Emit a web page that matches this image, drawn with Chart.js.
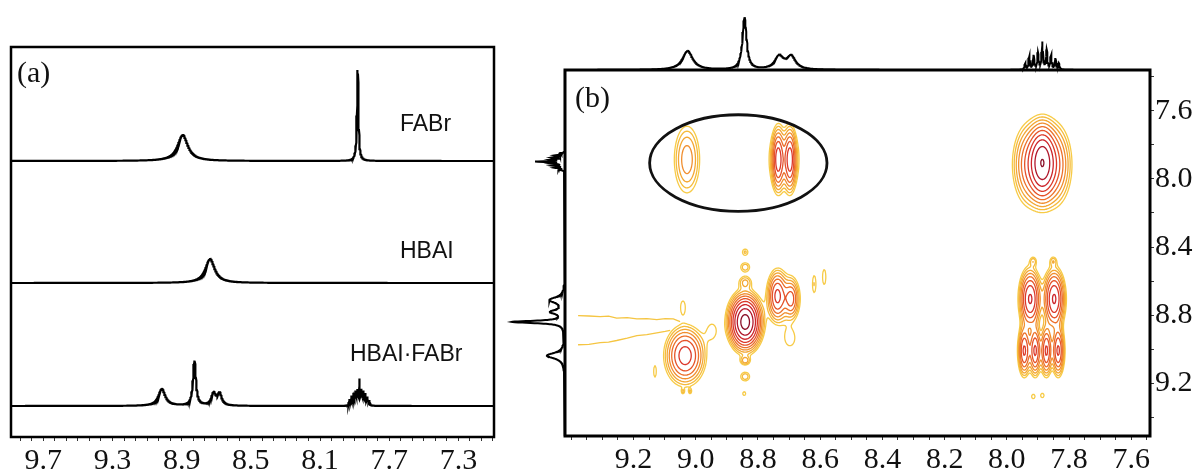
<!DOCTYPE html>
<html>
<head>
<meta charset="utf-8">
<title>1H NMR and NOESY</title>
<script src="https://cdn.jsdelivr.net/npm/chart.js@4.4.1/dist/chart.umd.min.js"></script>
<style>
  html, body { margin: 0; padding: 0; background: #fff; }
  body { width: 1197px; height: 474px; position: relative; overflow: hidden; }
  canvas { position: absolute; top: 0; }
  #chartA { left: 0; }
  #chartB { left: 500px; }
</style>
</head>
<body>
<canvas id="chartA" width="520" height="474"></canvas>
<canvas id="chartB" width="697" height="474"></canvas>
<script>
// ---------- panel (a): 1H spectra, peak lists ----------
const aTickLabels = ['9.7', '9.3', '8.9', '8.5', '8.1', '7.7', '7.3'];
const aNames = ['FABr', 'HBAI', 'HBAI·FABr'];

const fabrPpm = [8.894, 7.882];
const fabrHeight = [26, 91];
const fabrHwhm = [0.036, 0.005];

const hbaiPpm = [8.736];
const hbaiHeight = [24];
const hbaiHwhm = [0.033];

const mixPpm = [9.015, 8.826, 8.716, 8.681, 7.930, 7.918, 7.906, 7.895, 7.884, 7.872, 7.861, 7.850, 7.838, 7.826, 7.815];
const mixHeight = [17, 45, 12, 12, 6, 9, 11, 13, 14, 25, 14, 13, 11, 8, 5];
const mixHwhm = [0.024, 0.010, 0.015, 0.015, 0.003, 0.003, 0.003, 0.003, 0.003, 0.003, 0.003, 0.003, 0.003, 0.003, 0.003];

// ---------- panel (b): NOESY of HBAI·FABr ----------
const bF2TickLabels = ['9.2', '9.0', '8.8', '8.6', '8.4', '8.2', '8.0', '7.8', '7.6'];
const bF1TickLabels = ['7.6', '8.0', '8.4', '8.8', '9.2'];

// projection on top (F2)
const topPpm = [9.026, 8.843, 8.732, 8.693, 7.941, 7.928, 7.914, 7.900, 7.886, 7.872, 7.858, 7.844, 7.833];
const topHeight = [19, 52, 13, 13, 6, 13, 14, 16, 27, 19, 14, 11, 6];
const topHwhm = [0.020, 0.008, 0.017, 0.017, 0.0025, 0.0025, 0.0025, 0.0025, 0.0025, 0.0025, 0.0025, 0.0025, 0.0025];

// projection on the left (F1)
const sidePpm = [7.850, 7.862, 7.874, 7.886, 7.898, 7.910, 7.922, 7.934, 7.946, 8.711, 8.781, 8.840, 9.038];
const sideHeight = [5, 9, 11, 12, 28, 12, 11, 9, 6, 15, 13, 52, 18];
const sideHwhm = [0.003, 0.003, 0.003, 0.003, 0.003, 0.003, 0.003, 0.003, 0.003, 0.020, 0.015, 0.008, 0.020];

// cross / diagonal peaks: centre (F2, F1), amplitude, spread (ppm)
const crossF2 = [8.841, 8.841, 8.841, 8.841, 8.841, 8.841, 8.844,
                 9.034, 9.041, 9.131, 9.041, 9.018,
                 8.738, 8.693, 8.716, 8.619, 8.587, 8.697, 8.947,
                 9.028, 8.735, 8.697, 8.716,
                 7.886, 7.925, 7.848,
                 7.925, 7.848, 7.944, 7.909, 7.873, 7.835, 7.915, 7.851, 7.915, 7.886];
const crossF1 = [8.840, 8.430, 8.518, 8.606, 9.068, 9.161, 9.261,
                 9.038, 8.752, 9.132, 9.249, 9.249,
                 8.687, 8.705, 8.700, 8.617, 8.576, 8.939, 8.892,
                 7.886, 7.886, 7.886, 7.886,
                 7.904, 7.916, 7.916,
                 8.705, 8.705, 9.009, 9.009, 9.009, 9.009, 8.483, 8.483, 9.278, 9.272];
const crossAmp = [24, 1.5, 1.8, 2.0, 2.2, 1.8, 1.3,
                  9, 1.3, 1.3, 1.2, 1.2,
                  7, 5, 1.8, 1.4, 1.4, 1.3, 1.2,
                  3.4, 8, 8, 1.9,
                  16, 5.5, 5.5,
                  11, 11, 8, 8, 8, 8, 1.5, 1.5, 1.4, 1.4];
const crossSdF2 = [0.0257, 0.0096, 0.013, 0.0145, 0.011, 0.013, 0.0064,
                   0.033, 0.0096, 0.005, 0.004, 0.004,
                   0.016, 0.013, 0.035, 0.0064, 0.0064, 0.019, 0.019,
                   0.026, 0.0106, 0.0106, 0.037,
                   0.0225, 0.031, 0.031,
                   0.018, 0.018, 0.0108, 0.0103, 0.0103, 0.0108, 0.008, 0.008, 0.0064, 0.0064];
const crossSdF1 = [0.079, 0.020, 0.023, 0.026, 0.018, 0.023, 0.015,
                   0.088, 0.047, 0.041, 0.012, 0.012,
                   0.076, 0.060, 0.100, 0.058, 0.053, 0.053, 0.058,
                   0.125, 0.094, 0.094, 0.122,
                   0.111, 0.132, 0.132,
                   0.090, 0.090, 0.078, 0.078, 0.078, 0.078, 0.020, 0.020, 0.015, 0.015];

const contourLevels = [1, 1.4, 1.96, 2.74, 3.84, 5.38, 7.53, 10.5, 14.8, 20.7];
const contourColors = ['#f7cb47', '#f5bb3c', '#f3a734', '#f08e2f', '#ec702b', '#e5532a', '#db382a', '#cc252b', '#b0182c', '#8a1028'];

// t1-noise streaks at the left edge
const ridgeUpperF2 = [9.378, 9.343, 9.307, 9.280, 9.254, 9.220, 9.189, 9.157, 9.125, 9.098, 9.072, 9.050];
const ridgeUpperF1 = [8.803, 8.805, 8.809, 8.806, 8.818, 8.815, 8.822, 8.820, 8.826, 8.821, 8.822, 8.838];
const ridgeLowerF2 = [9.378, 9.343, 9.307, 9.280, 9.254, 9.220, 9.189, 9.157, 9.125, 9.098, 9.082];
const ridgeLowerF1 = [8.974, 8.972, 8.962, 8.958, 8.949, 8.935, 8.920, 8.915, 8.904, 8.896, 8.890];

// the ring drawn round the FABr cross peaks
const circleF2 = [9.148, 8.578];
const circleF1 = [7.623, 8.190];

// ---------- helpers ----------
const serif = "'Liberation Serif', 'Times New Roman', serif";
const sans = "'Liberation Sans', Arial, sans-serif";
Chart.defaults.font.family = serif;
Chart.defaults.color = '#111';

function lineshape(ppm, height, hwhm, lo, hi, step) {
  const pts = [];
  const n = Math.round((hi - lo) / step);
  for (let k = 0; k <= n; k++) {
    const v = lo + k * step;
    let s = 0;
    for (let i = 0; i < ppm.length; i++) {
      const d = (v - ppm[i]) / hwhm[i];
      s += height[i] / (1 + d * d);
    }
    pts.push([v, s]);
  }
  return pts;
}

function buildTicks(anchor, step, lo, hi) {
  const out = [];
  const k0 = Math.ceil((lo - anchor) / step - 1e-6);
  const k1 = Math.floor((hi - anchor) / step + 1e-6);
  for (let k = k0; k <= k1; k++) out.push({ value: anchor + k * step });
  return out;
}

function labelFor(labels) {
  return (v) => labels.find(l => Math.abs(parseFloat(l) - v) < 1e-6) || '';
}

function axisTicks(labels, size) {
  return {
    autoSkip: false, maxRotation: 0, minRotation: 0, padding: 2,
    color: '#111', font: { family: serif, size: size, lineHeight: 1.2 },
    callback: labelFor(labels)
  };
}
const tickGrid = { drawOnChartArea: false, tickLength: 4, tickColor: '#333', tickWidth: 1 };

// ---------- chart (a) ----------
const A_MIN = 7.094, A_MAX = 9.887;
const aOffsets = [276, 154, 31];
const aSpectra = [
  [fabrPpm, fabrHeight, fabrHwhm],
  [hbaiPpm, hbaiHeight, hbaiHwhm],
  [mixPpm, mixHeight, mixHwhm]
];

const panelA = {
  id: 'panelA',
  afterDatasetsDraw(chart) {
    const { ctx, chartArea: ca } = chart;
    ctx.save();
    ctx.strokeStyle = '#000';
    ctx.lineWidth = 2.5;
    ctx.strokeRect(ca.left, ca.top, ca.right - ca.left, ca.bottom - ca.top);
    ctx.fillStyle = '#111';
    ctx.textBaseline = 'middle';
    ctx.font = '30px ' + serif;
    ctx.fillText('(a)', 17, 74);
    ctx.font = '23px ' + sans;
    ctx.fillText(aNames[0], 400, 125);
    ctx.fillText(aNames[1], 400, 252);
    ctx.fillText(aNames[2], 350, 355);
    ctx.restore();
  }
};

new Chart(document.getElementById('chartA'), {
  type: 'scatter',
  data: {
    datasets: aSpectra.map((s, i) => ({
      label: aNames[i],
      data: lineshape(s[0], s[1], s[2], A_MIN, A_MAX, 0.001).map(p => ({ x: p[0], y: p[1] + aOffsets[i] })),
      showLine: true, pointRadius: 0, borderColor: '#000', borderWidth: 2.2
    }))
  },
  options: {
    responsive: false, animation: false, events: [],
    layout: { padding: { left: 11, right: 26, top: 47, bottom: 0 } },
    plugins: { legend: { display: false }, tooltip: { enabled: false } },
    scales: {
      x: {
        type: 'linear', reverse: true, min: A_MIN, max: A_MAX,
        afterBuildTicks: s => { s.ticks = buildTicks(7.3, 0.4 / 6, A_MIN, A_MAX); },
        afterFit: s => { s.height = 37; s.paddingLeft = 0; s.paddingRight = 0; },
        ticks: axisTicks(aTickLabels, 30),
        grid: tickGrid,
        border: { display: false }
      },
      y: { display: false, min: 0, max: 390 }
    }
  },
  plugins: [panelA]
});

// ---------- chart (b) ----------
const B_F2 = [7.54, 9.42];
const B_F1 = [7.36, 9.51];

function computeField(chart) {
  const { chartArea: ca, scales: { x, y } } = chart;
  const nx = Math.floor(ca.right - ca.left) + 1;
  const ny = Math.floor(ca.bottom - ca.top) + 1;
  const f2 = new Float64Array(nx), f1 = new Float64Array(ny);
  for (let i = 0; i < nx; i++) f2[i] = x.getValueForPixel(ca.left + i);
  for (let j = 0; j < ny; j++) f1[j] = y.getValueForPixel(ca.top + j);
  const field = new Float32Array(nx * ny);
  const gx = new Float64Array(nx), gy = new Float64Array(ny);
  for (let p = 0; p < crossAmp.length; p++) {
    let i0 = nx, i1 = -1, j0 = ny, j1 = -1;
    for (let i = 0; i < nx; i++) {
      const d = (f2[i] - crossF2[p]) / crossSdF2[p];
      gx[i] = Math.exp(-0.5 * d * d);
      if (gx[i] > 1e-4) { i0 = Math.min(i0, i); i1 = i; }
    }
    for (let j = 0; j < ny; j++) {
      const d = (f1[j] - crossF1[p]) / crossSdF1[p];
      gy[j] = Math.exp(-0.5 * d * d);
      if (gy[j] > 1e-4) { j0 = Math.min(j0, j); j1 = j; }
    }
    for (let j = j0; j <= j1; j++) {
      const a = crossAmp[p] * gy[j];
      for (let i = i0; i <= i1; i++) field[j * nx + i] += a * gx[i];
    }
  }
  return { field, nx, ny, x0: ca.left, y0: ca.top };
}

function traceLevel(ctx, g, level) {
  const { field, nx, ny, x0, y0 } = g;
  ctx.beginPath();
  const seg = (ax, ay, bx, by) => { ctx.moveTo(ax, ay); ctx.lineTo(bx, by); };
  for (let j = 0; j < ny - 1; j++) {
    for (let i = 0; i < nx - 1; i++) {
      const a = field[j * nx + i], b = field[j * nx + i + 1];
      const c = field[(j + 1) * nx + i + 1], d = field[(j + 1) * nx + i];
      let code = 0;
      if (a > level) code |= 8;
      if (b > level) code |= 4;
      if (c > level) code |= 2;
      if (d > level) code |= 1;
      if (code === 0 || code === 15) continue;
      const px = x0 + i, py = y0 + j;
      const tX = px + (level - a) / (b - a), tY = py;
      const rX = px + 1, rY = py + (level - b) / (c - b);
      const bX = px + (level - d) / (c - d), bY = py + 1;
      const lX = px, lY = py + (level - a) / (d - a);
      switch (code) {
        case 1: case 14: seg(lX, lY, bX, bY); break;
        case 2: case 13: seg(bX, bY, rX, rY); break;
        case 3: case 12: seg(lX, lY, rX, rY); break;
        case 4: case 11: seg(tX, tY, rX, rY); break;
        case 6: case 9: seg(tX, tY, bX, bY); break;
        case 7: case 8: seg(lX, lY, tX, tY); break;
        case 5: seg(tX, tY, rX, rY); seg(lX, lY, bX, bY); break;
        case 10: seg(lX, lY, tX, tY); seg(bX, bY, rX, rY); break;
      }
    }
  }
  ctx.stroke();
}

const panelB = {
  id: 'panelB',
  beforeDatasetsDraw(chart) {
    const { ctx, chartArea: ca } = chart;
    if (!chart.$grid) chart.$grid = computeField(chart);
    ctx.save();
    ctx.beginPath();
    ctx.rect(ca.left, ca.top, ca.right - ca.left, ca.bottom - ca.top);
    ctx.clip();
    ctx.lineWidth = 1.3;
    ctx.lineCap = 'round';
    contourLevels.forEach((lv, k) => {
      ctx.strokeStyle = contourColors[k];
      traceLevel(ctx, chart.$grid, lv);
    });
    ctx.restore();
  },
  afterDatasetsDraw(chart) {
    const { ctx, chartArea: ca, scales: { x, y } } = chart;
    ctx.save();
    // ring
    const xa = x.getPixelForValue(circleF2[0]), xb = x.getPixelForValue(circleF2[1]);
    const ya = y.getPixelForValue(circleF1[0]), yb = y.getPixelForValue(circleF1[1]);
    ctx.strokeStyle = '#111';
    ctx.lineWidth = 2.8;
    ctx.beginPath();
    ctx.ellipse((xa + xb) / 2, (ya + yb) / 2, Math.abs(xb - xa) / 2, Math.abs(yb - ya) / 2, 0, 0, Math.PI * 2);
    ctx.stroke();
    // frame
    ctx.strokeStyle = '#000';
    ctx.lineWidth = 3;
    ctx.strokeRect(ca.left, ca.top, ca.right - ca.left, ca.bottom - ca.top);
    ctx.fillStyle = '#111';
    ctx.textBaseline = 'middle';
    ctx.font = '30px ' + serif;
    ctx.fillText('(b)', ca.left + 10, ca.top + 29);
    ctx.restore();
  }
};

const topData = lineshape(topPpm, topHeight, topHwhm, B_F2[0], B_F2[1], 0.001).map(p => ({ x: p[0], y: p[1] }));
const sideData = lineshape(sidePpm, sideHeight, sideHwhm, B_F1[0], B_F1[1], 0.001).map(p => ({ x: p[1], y: p[0] }));
const ridgeUpper = ridgeUpperF2.map((v, i) => ({ x: v, y: ridgeUpperF1[i] }));
const ridgeLower = ridgeLowerF2.map((v, i) => ({ x: v, y: ridgeLowerF1[i] }));

new Chart(document.getElementById('chartB'), {
  type: 'scatter',
  data: {
    datasets: [
      { label: 'F2 projection', data: topData, xAxisID: 'x', yAxisID: 'yTop', clip: false,
        showLine: true, pointRadius: 0, borderColor: '#000', borderWidth: 2 },
      { label: 'F1 projection', data: sideData, xAxisID: 'xLeft', yAxisID: 'y', clip: false,
        showLine: true, pointRadius: 0, borderColor: '#000', borderWidth: 2 },
      { label: 'ridge 1', data: ridgeUpper, xAxisID: 'x', yAxisID: 'y',
        showLine: true, pointRadius: 0, borderColor: '#f5c542', borderWidth: 1.3 },
      { label: 'ridge 2', data: ridgeLower, xAxisID: 'x', yAxisID: 'y',
        showLine: true, pointRadius: 0, borderColor: '#f5c542', borderWidth: 1.3 }
    ]
  },
  options: {
    responsive: false, animation: false, events: [],
    layout: { padding: { left: 65, right: 0, top: 70, bottom: 0 } },
    plugins: { legend: { display: false }, tooltip: { enabled: false } },
    scales: {
      x: {
        type: 'linear', position: 'bottom', reverse: true, min: B_F2[0], max: B_F2[1],
        afterBuildTicks: s => { s.ticks = buildTicks(7.6, 0.05, B_F2[0], B_F2[1]); },
        afterFit: s => { s.height = 38; s.paddingLeft = 0; s.paddingRight = 0; },
        ticks: axisTicks(bF2TickLabels, 30),
        grid: tickGrid,
        border: { display: false }
      },
      y: {
        type: 'linear', position: 'right', reverse: true, min: B_F1[0], max: B_F1[1],
        afterBuildTicks: s => { s.ticks = buildTicks(7.6, 0.2, B_F1[0], B_F1[1]); },
        afterFit: s => { s.width = 47; s.paddingTop = 0; s.paddingBottom = 0; },
        ticks: Object.assign(axisTicks(bF1TickLabels, 30), { padding: 1 }),
        grid: tickGrid,
        border: { display: false }
      },
      yTop: { type: 'linear', display: false, position: 'left', min: -366, max: 0 },
      xLeft: { type: 'linear', display: false, position: 'bottom', reverse: true, min: -585, max: 0 }
    }
  },
  plugins: [panelB]
});
</script>
</body>
</html>
